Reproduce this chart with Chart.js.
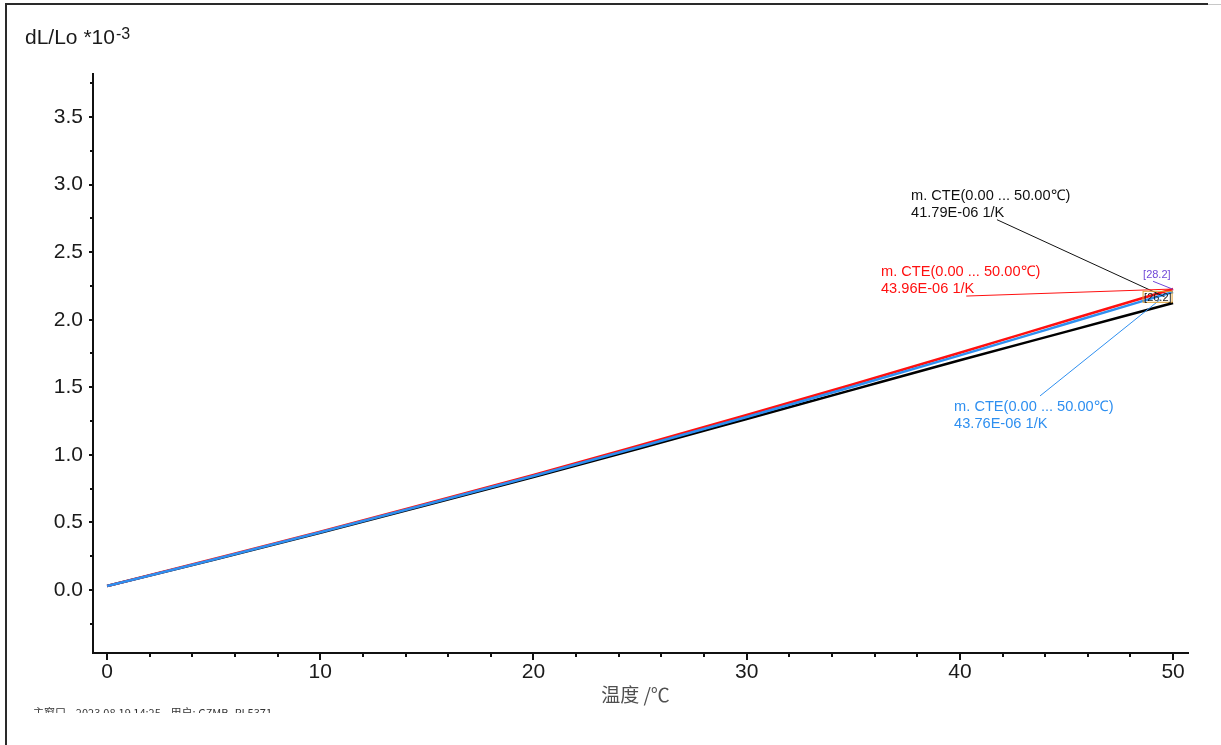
<!DOCTYPE html>
<html>
<head>
<meta charset="utf-8">
<title>dL/Lo</title>
<script src="https://cdn.jsdelivr.net/npm/chart.js@4.4.1/dist/chart.umd.min.js"></script>
<style>
    body { margin: 0; background: #fff; }
    canvas { display: block; }
</style>
</head>
<body>
<canvas id="chart" width="1221" height="745"></canvas>
<script>
// temperature (°C) and dL/Lo *10^-3 for the three runs
const temps = [0, 5, 10, 15, 20, 25, 30, 35, 40, 45, 50];
const blueRun = [0.03, 0.226, 0.428, 0.634, 0.844, 1.06, 1.28, 1.506, 1.736, 1.97, 2.205];
const redRun = [0.03, 0.23, 0.432, 0.64, 0.852, 1.072, 1.295, 1.523, 1.756, 1.992, 2.227];
const blackRun = [0.03, 0.224, 0.424, 0.628, 0.836, 1.048, 1.265, 1.483, 1.7, 1.912, 2.124];

const xTickValues = [0, 2, 4, 6, 8, 10, 12, 14, 16, 18, 20, 22, 24, 26, 28, 30, 32, 34, 36, 38, 40, 42, 44, 46, 48, 50];
const xTickLabels = [0, 10, 20, 30, 40, 50];
const yTickValues = [-0.25, 0, 0.25, 0.5, 0.75, 1, 1.25, 1.5, 1.75, 2, 2.25, 2.5, 2.75, 3, 3.25, 3.5, 3.75];
const yTickLabels = [0, 0.5, 1, 1.5, 2, 2.5, 3, 3.5];

const cteTexts = ['41.79E-06 1/K', '43.96E-06 1/K', '43.76E-06 1/K'];
const cteRange = 'm. CTE(0.00 ... 50.00\u2103)';

const FONT = '"Liberation Sans", Arial, sans-serif';
const CJK = '"Noto Sans CJK SC", "Liberation Sans", sans-serif';

// label anchors in data units (x, y), leader line from -> to
const annotations = [
    { text: cteTexts[0], color: '#111111', at: [37.71, 2.886], from: [41.74, 2.74], to: [49.6, 2.17] },
    { text: cteTexts[1], color: '#ff1010', at: [36.3, 2.324], from: [40.3, 2.175], to: [50, 2.227] },
    { text: cteTexts[2], color: '#2e8ff0', at: [39.73, 1.325], from: [43.76, 1.436], to: [49.4, 2.15] }
];

const pairs = (ys) => temps.map((t, i) => ({ x: t, y: ys[i] }));

const frameAndTicks = {
    id: 'frameAndTicks',
    beforeDraw(chart) {
        const ctx = chart.ctx;
        ctx.save();
        ctx.fillStyle = '#2a2a2a';
        ctx.fillRect(5, 3, 1203, 2);
        ctx.fillRect(5, 3, 2, 742);
        ctx.fillStyle = '#c8c8c8';
        ctx.fillRect(1208, 4, 13, 1);
        ctx.restore();
    },
    afterDraw(chart) {
        const { ctx, chartArea } = chart;
        const xs = chart.scales.x;
        const ys = chart.scales.y;
        ctx.save();
        ctx.strokeStyle = '#111';
        ctx.lineWidth = 2;
        xs.ticks.forEach(t => {
            const px = Math.round(xs.getPixelForValue(t.value));
            const len = xTickLabels.includes(t.value) ? 7 : 4;
            ctx.beginPath();
            ctx.moveTo(px, chartArea.bottom);
            ctx.lineTo(px, chartArea.bottom + len);
            ctx.stroke();
        });
        ys.ticks.forEach(t => {
            const py = Math.round(ys.getPixelForValue(t.value));
            const len = yTickLabels.includes(t.value) ? 4 : 3;
            ctx.beginPath();
            ctx.moveTo(chartArea.left, py);
            ctx.lineTo(chartArea.left - len, py);
            ctx.stroke();
        });

        // y title with superscript
        ctx.fillStyle = '#1a1a1a';
        ctx.textBaseline = 'alphabetic';
        ctx.font = '21px ' + FONT;
        const base = 'dL/Lo *10';
        ctx.fillText(base, 25, 44);
        const w = ctx.measureText(base).width;
        ctx.font = '16px ' + FONT;
        ctx.fillText('-3', 26 + w, 39);

        // x title
        ctx.fillStyle = '#505050';
        ctx.font = '19px ' + CJK;
        ctx.textAlign = 'center';
        ctx.textBaseline = 'middle';
        ctx.fillText('温度 /\u2103', (chartArea.left + chartArea.right) / 2 - 5, chartArea.bottom + 42);

        // clipped footer line
        ctx.save();
        ctx.beginPath();
        ctx.rect(0, 700, 600, 13);
        ctx.clip();
        ctx.fillStyle = '#333';
        ctx.textAlign = 'left';
        ctx.textBaseline = 'alphabetic';
        ctx.font = '11px ' + CJK;
        ctx.fillText('主窗口    2023.08.19 14:25    用户: GZMB_PL5371', 33, 717);
        ctx.restore();

        // CTE labels with leader lines
        ctx.textAlign = 'left';
        ctx.textBaseline = 'alphabetic';
        ctx.font = '14.6px ' + FONT;
        annotations.forEach(a => {
            const lx = xs.getPixelForValue(a.at[0]);
            const ly = ys.getPixelForValue(a.at[1]);
            ctx.fillStyle = a.color;
            ctx.fillText(cteRange, lx, ly);
            ctx.fillText(a.text, lx, ly + 17);
            ctx.strokeStyle = a.color;
            ctx.lineWidth = 1;
            ctx.beginPath();
            ctx.moveTo(xs.getPixelForValue(a.from[0]), ys.getPixelForValue(a.from[1]));
            ctx.lineTo(xs.getPixelForValue(a.to[0]), ys.getPixelForValue(a.to[1]));
            ctx.stroke();
        });

        // step markers at the end point
        const ex = xs.getPixelForValue(50);
        const ey = ys.getPixelForValue(2.225);
        ctx.font = '11px ' + FONT;
        ctx.fillStyle = '#7048d8';
        ctx.fillText('[28.2]', ex - 30, ey - 11);
        ctx.strokeStyle = '#7048d8';
        ctx.beginPath();
        ctx.moveTo(ex - 20, ey - 8);
        ctx.lineTo(ex, ey);
        ctx.stroke();
        ctx.strokeStyle = '#e0a030';
        ctx.strokeRect(ex - 30, ey + 2, 29, 11);
        ctx.fillStyle = '#222';
        ctx.fillText('[26.2]', ex - 29, ey + 12);
        ctx.restore();
    }
};

new Chart(document.getElementById('chart'), {
    type: 'line',
    data: {
        datasets: [
            { label: 'blue', data: pairs(blueRun), borderColor: '#2e8ff0', borderWidth: 2.5 },
            { label: 'red', data: pairs(redRun), borderColor: '#ff1010', borderWidth: 2.5 },
            { label: 'black', data: pairs(blackRun), borderColor: '#000000', borderWidth: 2.5 }
        ]
    },
    options: {
        responsive: false,
        animation: false,
        devicePixelRatio: 1,
        layout: { padding: { left: 0, top: 74, right: 33, bottom: 0 } },
        elements: {
            point: { radius: 0 },
            line: { tension: 0.4, cubicInterpolationMode: 'monotone', fill: false }
        },
        plugins: {
            legend: { display: false },
            tooltip: { enabled: false }
        },
        scales: {
            x: {
                type: 'linear',
                min: -0.66,
                max: 50.7,
                afterBuildTicks: axis => { axis.ticks = xTickValues.map(v => ({ value: v })); },
                afterFit: axis => { axis.height = 92; },
                grid: { display: false, drawTicks: false },
                border: { display: true, color: '#111', width: 2 },
                ticks: {
                    autoSkip: false,
                    maxRotation: 0,
                    padding: 7,
                    color: '#1a1a1a',
                    font: { family: FONT, size: 21 },
                    callback: v => xTickLabels.includes(v) ? String(v) : ''
                }
            },
            y: {
                type: 'linear',
                min: -0.466,
                max: 3.818,
                afterBuildTicks: axis => { axis.ticks = yTickValues.map(v => ({ value: v })); },
                afterFit: axis => { axis.width = 93; },
                grid: { display: false, drawTicks: false },
                border: { display: true, color: '#111', width: 2 },
                ticks: {
                    autoSkip: false,
                    padding: 10,
                    color: '#1a1a1a',
                    font: { family: FONT, size: 21 },
                    callback: v => yTickLabels.includes(v) ? v.toFixed(1) : ''
                }
            }
        }
    },
    plugins: [frameAndTicks]
});
</script>
</body>
</html>
